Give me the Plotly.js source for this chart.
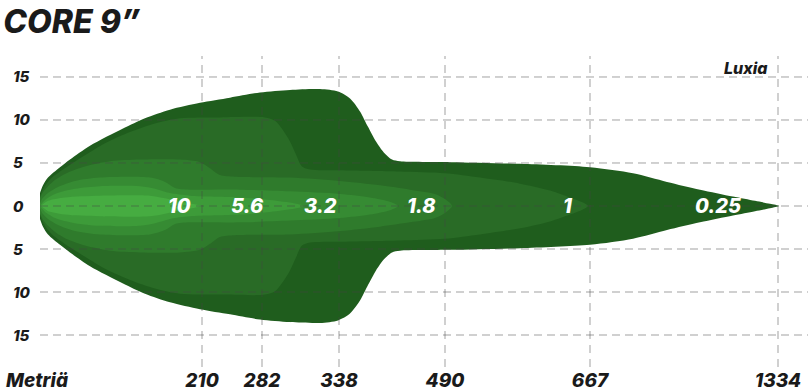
<!DOCTYPE html>
<html>
<head>
<meta charset="utf-8">
<script src="https://cdn.plot.ly/plotly-3.0.1.min.js"></script>
<style>
  html, body { margin: 0; padding: 0; background: #ffffff; }
  #chart { width: 808px; height: 392px; }
</style>
</head>
<body>
<div id="chart"></div>
<script>
// ---- Data ----
// Distance labels on the (non-linear) throw axis and their positions along the axis
const distanceLabels = ['210', '282', '338', '490', '667', '1334'];
const distancePos    = [162, 222, 299, 405, 550, 738];

// Lateral spread ticks (metres either side of the beam centre)
const spreadTicks  = [15, 10, 5, 0, -5, -10, -15];
const spreadLabels = ['15', '10', '5', '0', '5', '10', '15'];

// Iso-lux contour levels (lux) and their label positions
const luxLevels  = ['0.25', '1', '1.8', '3.2', '5.6', '10'];
const luxLabelX  = [678, 528, 381, 280, 207, 140];

// Contour outlines: position along throw axis and half-width (m)
const c025_x = [-2, -1.5, 0, 3, 8, 20, 30, 50, 83, 105, 130, 160, 190, 220, 250, 280, 298, 310, 320, 328, 336, 344, 352, 360, 410, 480, 550, 593, 627, 660, 693, 715, 730, 739];
const c025_y = [0, 0.8, 1.5, 2.4, 3.3, 4.5, 5.4, 7.0, 9.0, 10.2, 11.2, 12.0, 12.6, 13.2, 13.5, 13.6, 13.3, 12.5, 11, 9.2, 7.5, 6.2, 5.4, 5.2, 5.1, 4.9, 4.5, 3.8, 2.8, 1.9, 1.1, 0.6, 0.25, 0];

const c1_x = [-1, 0, 2, 6, 12, 20, 30, 45, 65, 90, 115, 140, 180, 225, 235, 243, 250, 256, 262, 270, 300, 360, 405, 440, 480, 510, 530, 543, 548];
const c1_y = [0, 1.0, 1.7, 2.5, 3.3, 4.0, 4.8, 5.9, 7.3, 8.6, 9.6, 10.2, 10.3, 10.3, 9.9, 8.8, 7.5, 6.0, 4.6, 4.25, 4.15, 4.0, 3.8, 3.3, 2.6, 1.8, 1.0, 0.4, 0];

const c18_x = [-1, 0, 3, 8, 16, 28, 45, 70, 100, 140, 160, 170, 180, 195, 250, 300, 340, 370, 395, 405, 412];
const c18_y = [0, 0.9, 1.6, 2.3, 3.1, 3.9, 4.6, 5.2, 5.4, 5.4, 5.1, 4.4, 3.6, 3.4, 3.3, 2.9, 2.4, 1.9, 1.4, 0.8, 0];

const c32_x = [-1, 2, 8, 18, 35, 60, 110, 125, 135, 150, 200, 250, 300, 330, 350, 358];
const c32_y = [0, 0.8, 1.5, 2.2, 2.9, 3.3, 3.3, 2.8, 2.1, 1.9, 1.9, 1.7, 1.4, 1.0, 0.5, 0];

const c56_x = [0, 5, 15, 35, 60, 100, 115, 130, 150, 200, 230, 255, 265];
const c56_y = [0, 0.7, 1.4, 2.0, 2.3, 2.3, 2.0, 1.5, 1.2, 1.0, 0.7, 0.3, 0];

const c10_x = [1, 8, 25, 60, 110, 125, 140, 155, 162];
const c10_y = [0, 0.6, 1.0, 1.2, 1.2, 0.9, 0.5, 0.2, 0];

const contourX = [c025_x, c1_x, c18_x, c32_x, c56_x, c10_x];
const contourY = [c025_y, c1_y, c18_y, c32_y, c56_y, c10_y];
const contourColors = ['#1f5d1d', '#296b26', '#2f7b2c', '#368b33', '#3d9b39', '#46ac41'];

// ---- Build traces ----
function outline(xs, hw) {
  const x = xs.slice();
  const y = hw.slice();
  for (let i = xs.length - 2; i >= 1; i--) {
    x.push(xs[i]);
    y.push(-hw[i]);
  }
  return {x: x, y: y};
}

const traces = contourX.map((xs, i) => {
  const o = outline(xs, contourY[i]);
  return {
    type: 'scatter', mode: 'lines',
    x: o.x, y: o.y,
    fill: 'toself', fillcolor: contourColors[i],
    line: {width: 0, shape: 'spline', smoothing: 0.8, color: contourColors[i]},
    hoverinfo: 'skip', showlegend: false
  };
});

const FONT = 'Inter, Roboto, "DejaVu Sans", sans-serif';
const XMIN = 0, XMAX = 768;
const YMIN = -18.72, YMAX = 17.44;

// Grid lines drawn above the fills
const gridColor = 'rgba(70,70,70,0.5)';
const shapes = [];
spreadTicks.forEach(v => shapes.push({
  type: 'line', xref: 'x', yref: 'y', x0: XMIN, x1: XMAX, y0: v, y1: v,
  line: {color: gridColor, width: 1, dash: '8px,5px'}, layer: 'above'
}));
distancePos.forEach(v => shapes.push({
  type: 'line', xref: 'x', yref: 'paper', x0: v, x1: v, y0: 0, y1: 1,
  line: {color: gridColor, width: 1, dash: '8px,6px'}, layer: 'above'
}));

const annotations = [];
// lux labels
luxLevels.forEach((t, i) => annotations.push({
  x: luxLabelX[i], y: 0, xref: 'x', yref: 'y', text: t, showarrow: false,
  xanchor: 'center', yanchor: 'middle',
  font: {family: FONT, size: 20, color: '#ffffff', weight: 800, style: 'italic'}
}));
// spread labels (left aligned, in the left margin)
spreadTicks.forEach((v, i) => annotations.push({
  x: -0.0378, y: v, xref: 'paper', yref: 'y', text: spreadLabels[i], showarrow: false,
  xanchor: 'left', yanchor: 'middle',
  font: {family: FONT, size: 15, color: '#1a1a1a', weight: 800, style: 'italic'}
}));
annotations.push({
  x: 730, y: 16.05, xref: 'x', yref: 'y', text: 'Luxia', showarrow: false,
  xanchor: 'right', yanchor: 'middle',
  font: {family: FONT, size: 16, color: '#1a1a1a', weight: 800, style: 'italic'}
});
annotations.push({
  x: -0.046, y: -0.042, xref: 'paper', yref: 'paper', text: 'Metriä', showarrow: false,
  xanchor: 'left', yanchor: 'middle', borderpad: 0,
  font: {family: FONT, size: 19, color: '#1a1a1a', weight: 800, style: 'italic'}
});

const layout = {
  width: 808, height: 392,
  margin: {l: 40, r: 0, t: 56, b: 25},
  paper_bgcolor: '#ffffff', plot_bgcolor: '#ffffff',
  title: {
    text: 'CORE 9”', xref: 'container', yref: 'container',
    x: 0.004, xanchor: 'left', y: 0.944, yanchor: 'middle',
    font: {family: FONT, size: 32, color: '#1a1a1a', weight: 800, style: 'italic'}
  },
  xaxis: {
    range: [XMIN, XMAX], tickvals: distancePos, ticktext: distanceLabels,
    showgrid: false, zeroline: false, showline: false, ticks: '',
    tickfont: {family: FONT, size: 19, color: '#1a1a1a', weight: 800, style: 'italic'},
    fixedrange: true
  },
  yaxis: {
    range: [YMIN, YMAX], showgrid: false, zeroline: false, showline: false,
    showticklabels: false, ticks: '', fixedrange: true
  },
  shapes: shapes,
  annotations: annotations,
  showlegend: false,
  hovermode: false
};

Plotly.newPlot('chart', traces, layout, {staticPlot: true, displayModeBar: false});
</script>
</body>
</html>
